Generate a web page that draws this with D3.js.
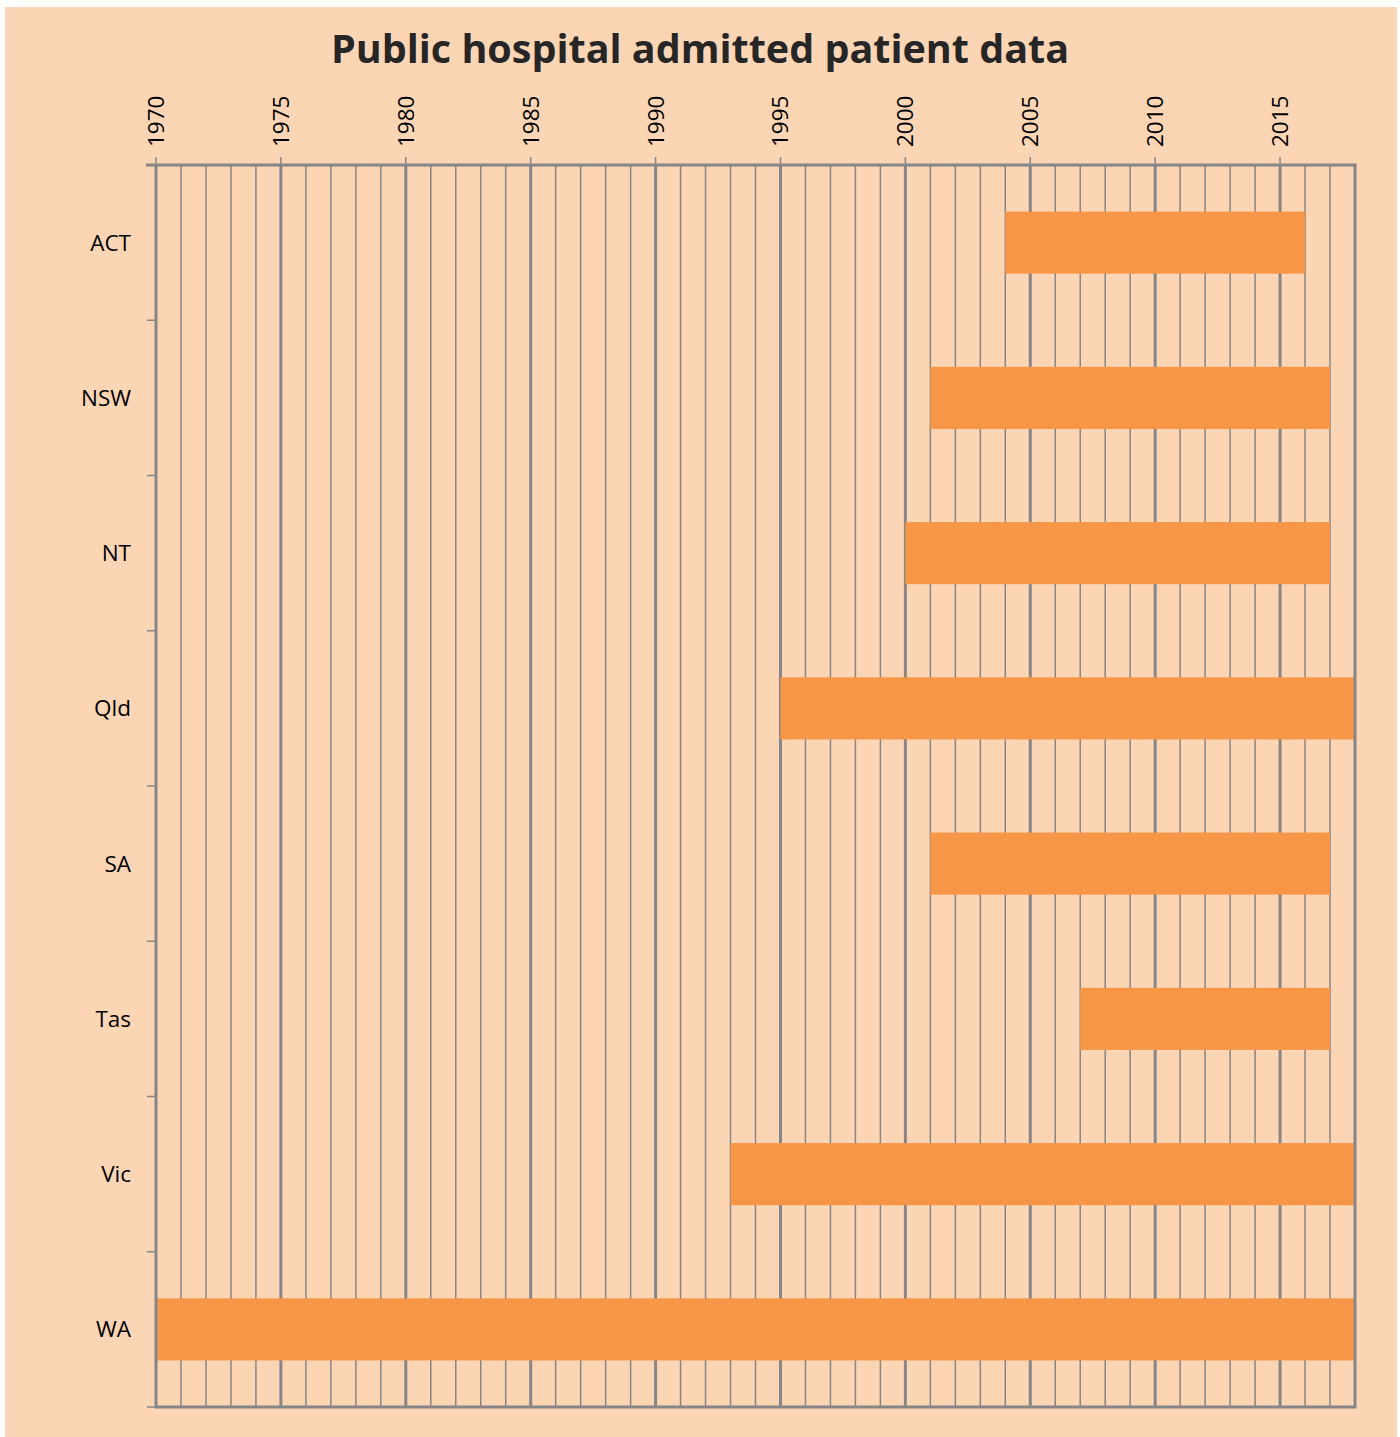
<!DOCTYPE html>
<html>
<head>
<meta charset="utf-8">
<script src="https://cdn.jsdelivr.net/npm/d3@7"></script>
<style>
  body { margin: 0; background: #fff; }
  svg { display: block; }
</style>
</head>
<body>
<div id="chart"></div>
<script>
// data
const states = ["ACT", "NSW", "NT", "Qld", "SA", "Tas", "Vic", "WA"];
const startYears = [2004, 2001, 2000, 1995, 2001, 2007, 1993, 1970];
const endYears = [2016, 2017, 2017, 2018, 2017, 2017, 2018, 2018];
const majorTicks = [1970, 1975, 1980, 1985, 1990, 1995, 2000, 2005, 2010, 2015];

const width = 1400, height = 1437;
const margin = {top: 165, left: 156, right: 1400 - 1355, bottom: 1437 - 1407};

const svg = d3.select("#chart").append("svg")
    .attr("width", width)
    .attr("height", height);

// background panel
svg.append("rect")
    .attr("x", 5).attr("y", 7)
    .attr("width", 1392).attr("height", 1430)
    .attr("fill", "#FCD5B5");

svg.append("text")
    .attr("x", 700).attr("y", 63)
    .attr("text-anchor", "middle")
    .style("font-family", "'Open Sans', sans-serif")
    .style("font-weight", "bold")
    .style("font-size", "39.5px")
    .attr("fill", "#262626")
    .text("Public hospital admitted patient data");

const x = d3.scaleLinear()
    .domain([1970, 2018])
    .range([margin.left, width - margin.right]);

const y = d3.scaleBand()
    .domain(states)
    .range([margin.top, height - margin.bottom])
    .paddingInner(0.6)
    .paddingOuter(0.3);

const y0 = margin.top, y1 = height - margin.bottom;
const grid = svg.append("g");

// gridlines each year, thicker every 5
grid.selectAll("line.minor")
    .data(d3.range(1971, 2018))
    .join("line")
      .attr("x1", d => x(d)).attr("x2", d => x(d))
      .attr("y1", y0).attr("y2", y1)
      .attr("stroke", "#868686")
      .attr("stroke-width", d => d % 5 === 0 ? 3 : 1.5);

// bars
svg.append("g")
    .selectAll("rect")
    .data(states)
    .join("rect")
      .attr("x", (d, i) => x(startYears[i]))
      .attr("y", d => y(d))
      .attr("width", (d, i) => x(endYears[i]) - x(startYears[i]))
      .attr("height", y.bandwidth())
      .attr("fill", "#F79646");

// frame
const frame = svg.append("g").attr("stroke", "#868686").attr("stroke-width", 3).attr("fill", "none");
frame.append("path")
    .attr("d", `M${x(1970)},${y0 - 1}V${y1}H${x(2018)}V${y0}`);
frame.append("line")
    .attr("x1", x(1970) - 10).attr("x2", x(2018) + 1.5)
    .attr("y1", y0).attr("y2", y0);

// top axis ticks + labels
const topAxis = svg.append("g");
topAxis.selectAll("line")
    .data(majorTicks)
    .join("line")
      .attr("x1", d => x(d)).attr("x2", d => x(d))
      .attr("y1", y0 - 8).attr("y2", y0)
      .attr("stroke", "#868686").attr("stroke-width", 1.5);
topAxis.selectAll("text")
    .data(majorTicks)
    .join("text")
      .attr("transform", d => `translate(${x(d) + 8},${y0 - 18}) rotate(-90)`)
      .style("font-family", "'Open Sans', sans-serif")
      .style("font-size", "22.5px")
      .attr("fill", "#000")
      .text(d => d);

// left axis: boundary ticks + labels
svg.append("g")
    .selectAll("line")
    .data(d3.range(states.length + 1))
    .join("line")
      .attr("x1", x(1970) - 9).attr("x2", x(1970))
      .attr("y1", i => y0 + i * (y1 - y0) / states.length)
      .attr("y2", i => y0 + i * (y1 - y0) / states.length)
      .attr("stroke", "#868686").attr("stroke-width", 1.5);

svg.append("g")
    .selectAll("text")
    .data(states)
    .join("text")
      .attr("x", 131)
      .attr("y", d => y(d) + y.bandwidth() / 2)
      .attr("dy", "0.35em")
      .attr("text-anchor", "end")
      .style("font-family", "'Open Sans', sans-serif")
      .style("font-size", "22.5px")
      .attr("fill", "#000")
      .text(d => d);
</script>
</body>
</html>
